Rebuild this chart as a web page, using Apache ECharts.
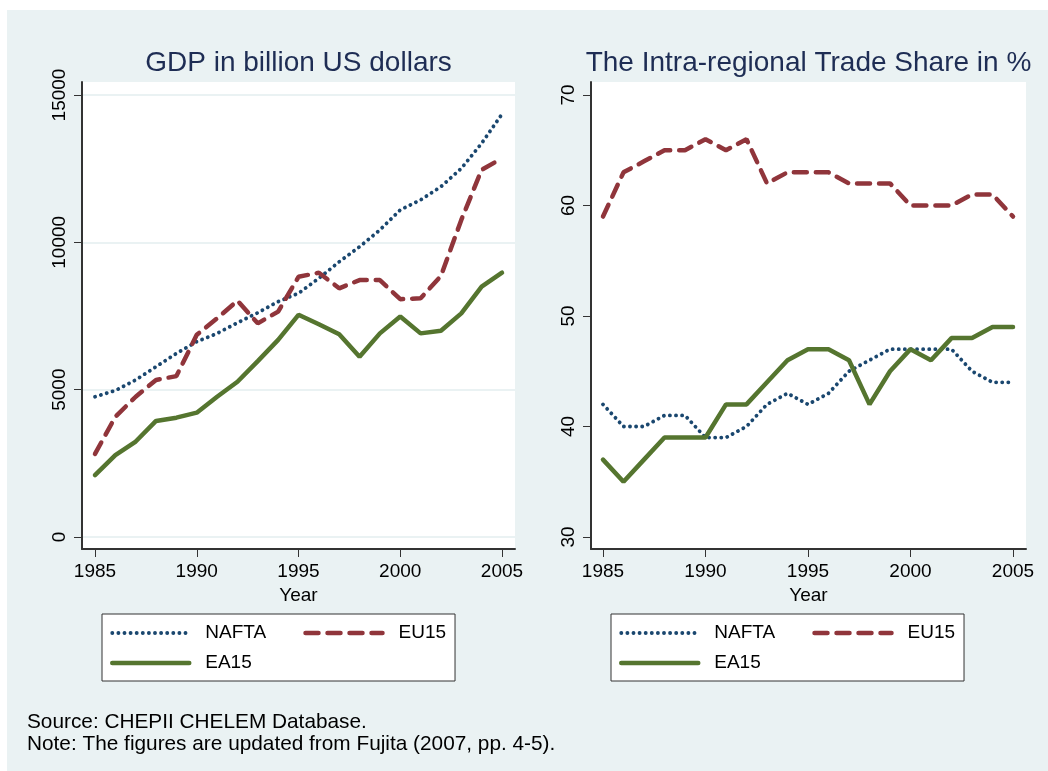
<!DOCTYPE html>
<html>
<head>
<meta charset="utf-8">
<title>GDP and intra-regional trade share</title>
<script src="https://cdn.jsdelivr.net/npm/echarts@6/dist/echarts.min.js"></script>
<style>
  html, body { margin: 0; padding: 0; background: #fff; }
  #main { width: 1048px; height: 771px; }
</style>
</head>
<body>
<div id="main"></div>
<script>
// data
var years = [1985, 1986, 1987, 1988, 1989, 1990, 1991, 1992, 1993, 1994, 1995,
             1996, 1997, 1998, 1999, 2000, 2001, 2002, 2003, 2004, 2005];

// GDP in billion US dollars
var gdpNafta = [4760, 4970, 5330, 5780, 6230, 6630, 6910, 7270, 7610, 7990, 8270,
                8780, 9340, 9850, 10420, 11100, 11440, 11890, 12510, 13360, 14350];
var gdpEu15  = [2820, 4080, 4760, 5330, 5460, 6860, 7420, 8020, 7250, 7650, 8830,
                8970, 8440, 8720, 8720, 8070, 8100, 8860, 10760, 12460, 12850];
var gdpEa15  = [2100, 2780, 3240, 3940, 4050, 4220, 4760, 5270, 5970, 6690, 7540,
                7220, 6880, 6120, 6910, 7480, 6910, 7000, 7590, 8500, 8970];

// intra-regional trade share in %
var shareNafta = [42, 40, 40, 41, 41, 39, 39, 40, 42, 43, 42,
                  43, 45, 46, 47, 47, 47, 47, 45, 44, 44];
var shareEu15  = [59, 63, 64, 65, 65, 66, 65, 66, 62, 63, 63,
                  63, 62, 62, 62, 60, 60, 60, 61, 61, 59];
var shareEa15  = [37, 35, 37, 39, 39, 39, 42, 42, 44, 46, 47,
                  47, 46, 42, 45, 47, 46, 48, 48, 49, 49];

var yearTicks = [1985, 1990, 1995, 2000, 2005];
var gdpTicks = [0, 5000, 10000, 15000];
var shareTicks = [30, 40, 50, 60, 70];

var FONT = '"Liberation Sans", Arial, sans-serif';
var lineStyles = {
    NAFTA: { color: '#1a476f', width: 3.8, type: [0.1, 6], cap: 'round' },
    EU15:  { color: '#90353b', width: 4.5, type: [13, 9], cap: 'round' },
    EA15:  { color: '#55752f', width: 4.5, type: 'solid', cap: 'round' }
};

function plain(v) { return String(v); }

function pairs(vals) {
    return years.map(function (y, i) { return [y, vals[i]]; });
}

function makeSeries(name, vals, idx) {
    var ls = lineStyles[name];
    return {
        name: name,
        type: 'line',
        xAxisIndex: idx,
        yAxisIndex: idx,
        data: pairs(vals),
        symbol: 'none',
        silent: true,
        color: ls.color,
        lineStyle: ls
    };
}

function xAxisFor(idx, min, max) {
    return {
        type: 'value', gridIndex: idx, min: min, max: max,
        name: 'Year', nameLocation: 'middle', nameGap: 34,
        nameTextStyle: { fontFamily: FONT, fontSize: 19, color: '#000' },
        axisLine: { show: true, onZero: false, lineStyle: { color: '#333', width: 2 } },
        axisTick: { show: true, length: 8, customValues: yearTicks, lineStyle: { color: '#333', width: 1 } },
        axisLabel: { customValues: yearTicks, formatter: plain, margin: 13, fontFamily: FONT, fontSize: 19, color: '#000' },
        splitLine: { show: false }
    };
}

function yAxisFor(idx, min, max, ticks, grid) {
    return {
        type: 'value', gridIndex: idx, min: min, max: max,
        axisLine: { show: true, onZero: false, lineStyle: { color: '#333', width: 2 } },
        axisTick: { show: true, length: 8, customValues: ticks, lineStyle: { color: '#333', width: 1 } },
        axisLabel: { customValues: ticks, formatter: plain, rotate: 90, margin: 13, fontFamily: FONT, fontSize: 19, color: '#000' },
        splitLine: { show: grid, lineStyle: { color: '#eaf2f3', width: 2 } }
    };
}

function legendAt(left) {
    return {
        left: left, top: 614,
        orient: 'horizontal',
        data: [{ name: 'NAFTA', textStyle: { width: 88 } }, 'EU15', '', 'EA15'],
        itemWidth: 77, itemHeight: 20, itemGap: 10,
        padding: [9, 9, 8, 8],
        backgroundColor: '#fff', borderColor: '#333', borderWidth: 1,
        selectedMode: false,
        itemStyle: { color: 'rgba(0,0,0,0)', borderWidth: 0 },
        lineStyle: { width: 'inherit' },
        textStyle: { fontFamily: FONT, fontSize: 19, lineHeight: 20, color: '#000', padding: [0, 0, 0, 11] }
    };
}

var chart = echarts.init(document.getElementById('main'));
var option = {
    backgroundColor: '#fff',
    animation: false,
    graphic: [{
        type: 'rect', z: -10, silent: true,
        shape: { x: 7, y: 10, width: 1041, height: 761 },
        style: { fill: '#eaf2f3' }
    }],
    title: [{
        text: 'GDP in billion US dollars',
        left: 298.5, top: 49, padding: 0, textAlign: 'center',
        textStyle: { fontFamily: FONT, fontSize: 28, fontWeight: 'normal', color: '#1e2d54' }
    }, {
        text: 'The Intra-regional Trade Share in %',
        left: 808.5, top: 49, padding: 0, textAlign: 'center',
        textStyle: { fontFamily: FONT, fontSize: 28, fontWeight: 'normal', color: '#1e2d54' }
    }, {
        text: 'Source: CHEPII CHELEM Database.\nNote: The figures are updated from Fujita (2007, pp. 4-5).',
        left: 27, top: 711, padding: 0,
        textStyle: { fontFamily: FONT, fontSize: 20.8, lineHeight: 22, fontWeight: 'normal', color: '#000' }
    }],
    legend: [legendAt(102), legendAt(611)],
    grid: [
        { left: 82, top: 82, width: 433, height: 467, show: true, backgroundColor: '#fff', borderWidth: 0 },
        { left: 591, top: 82, width: 435, height: 467, show: true, backgroundColor: '#fff', borderWidth: 0 }
    ],
    xAxis: [
        xAxisFor(0, 1984.361, 2005.639),
        xAxisFor(1, 1984.415, 2005.634)
    ],
    yAxis: [
        yAxisFor(0, -407, 15441, gdpTicks, true),
        yAxisFor(1, 28.914, 71.176, shareTicks, false)
    ],
    series: [
        makeSeries('NAFTA', gdpNafta, 0),
        makeSeries('EU15', gdpEu15, 0),
        makeSeries('EA15', gdpEa15, 0),
        makeSeries('NAFTA', shareNafta, 1),
        makeSeries('EU15', shareEu15, 1),
        makeSeries('EA15', shareEa15, 1)
    ]
};
chart.setOption(option);
</script>
</body>
</html>
